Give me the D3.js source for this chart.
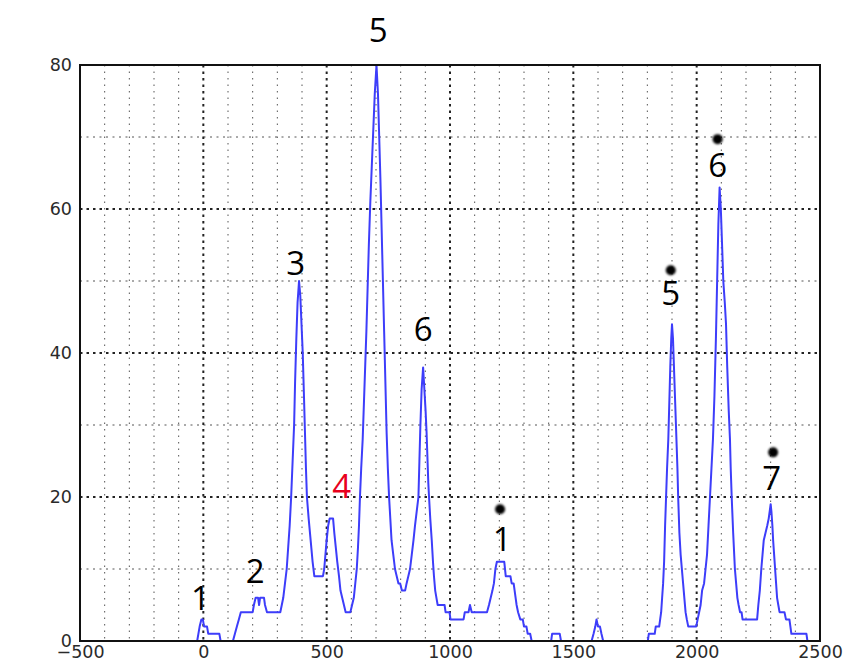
<!DOCTYPE html>
<html><head><meta charset="utf-8">
<script src="https://cdn.jsdelivr.net/npm/d3@7/dist/d3.min.js"></script>
<style>body{margin:0;background:#fff}svg{display:block}</style>
</head><body>
<svg id="c" width="849" height="664"></svg>
<script>
// ---- data ----
const xTicks = [-500, 0, 500, 1000, 1500, 2000, 2500];
const yTicks = [0, 20, 40, 60, 80];
const xMinor = [-400,-300,-200,-100,100,200,300,400,600,700,800,900,1100,1200,1300,1400,1600,1700,1800,1900,2100,2200,2300,2400];
const yMinor = [10, 30, 50, 70];

const sigX = [-25,-15,-8,-2,3,15,20,65,70,
 120,128,136,144,152,200,205,212,222,226,230,246,250,258,312,
 318,324,331,338,344,350,356,362,368,372,377,382,388,393,398,403,408,412,416,420,427,435,443,450,485,
 490,495,500,506,512,526,531,537,543,550,556,563,570,577,596,603,610,616,622,627,631,635,640,646,651,656,661,666,671,677,683,689,695,702,
 708,713,718,723,728,733,738,743,748,753,758,763,770,777,784,791,798,805,818,824,831,838,845,852,858,865,872,876,880,885,891,
 896,901,905,908,912,915,920,926,931,935,940,945,950,978,982,998,1002,1055,1060,1075,1081,1088,1150,1158,1165,1172,1178,1184,1190,1220,
 1226,1245,1250,1258,1262,1266,1270,1276,1285,1295,1300,1310,1315,1325,1331,
 1410,1414,1445,1450,
 1574,1582,1589,1594,1600,1608,1614,1621,
 1802,1806,1830,1834,1848,1852,1856,1860,1864,1868,1872,1876,1880,1885,1889,1893,1897,1900,1904,1908,1912,1916,1919,1922,1925,1930,1935,1940,1945,1950,1955,1960,1966,1998,
 2004,2010,2016,2022,2030,2036,2042,2048,2054,2060,2066,2072,2078,2083,2088,2093,2098,2102,2108,2114,2119,2124,2130,2135,2138,2142,2148,2155,2160,2165,2170,2176,2182,2186,2245,
 2250,2256,2262,2267,2272,2279,2286,2292,2296,2300,2303,2307,2310,2314,2318,2322,2326,2331,2336,2356,2362,2376,2380,2384,2445,2449];
const sigY = [0,2,3,3,2,2,1,1,0,
 0,1,2,3,4,4,5,6,6,5,6,6,5,4,4,
 5,6,8,10,13,16,20,25,30,36,42,47,50,48,44,40,34,29,24,20,17,14,11,9,9,
 10,12,14,16,17,17,15,13,11,9,7,6,5,4,4,5,6,8,10,13,16,20,24,28,33,38,43,49,55,61,66,71,76,80,
 76,70,64,57,50,43,36,29,24,20,17,14,12,10,9,8,8,7,7,8,9,10,12,14,16,18,20,25,30,35,38,
 35,32,29,26,22,20,17,14,11,9,7,6,5,5,4,4,3,3,4,4,5,4,4,5,6,7,8,10,11,11,
 9,9,8,8,7,6,5,4,3,3,2,2,1,1,0,
 0,1,1,0,
 0,1,2,3,2,2,1,0,
 0,1,1,2,2,3,4,6,8,11,16,20,24,28,33,38,42,44,42,38,34,30,27,24,20,15,12,10,8,6,4,3,2,2,
 3,4,5,7,8,10,12,16,20,24,28,34,42,50,58,63,60,56,50,47,44,38,32,28,24,20,15,10,8,6,5,4,4,3,3,
 5,7,10,12,14,15,16,17,18,19,18,16,14,12,10,8,6,5,4,4,3,3,2,1,1,0];

const annoText  = ["1","2","3","4","5","6","1","5","6","7"];
const annoX     = [-12,210,374,561,709,891,1212,1895,2085,2304];
const annoY     = [4.3,8.0,50.8,19.9,83.2,41.7,12.5,46.7,64.4,21.0];
const annoColor = ["#000","#000","#000","#e8001c","#000","#000","#000","#000","#000","#000"];
const dotX = [1203,1895,2085,2310];
const dotY = [18.3,51.5,69.7,26.2];

// ---- chart ----
const svg = d3.select("#c");
const L = 80, R = 820, T = 65, B = 641;
const x = d3.scaleLinear().domain([-500, 2500]).range([L, R]);
const y = d3.scaleLinear().domain([0, 80]).range([B, T]);

const defs = svg.append("defs");
defs.append("filter").attr("id","blur").attr("x","-50%").attr("y","-50%").attr("width","200%").attr("height","200%")
  .append("feGaussianBlur").attr("stdDeviation", 1.3);
defs.append("clipPath").attr("id","clip").append("rect").attr("x",L).attr("y",T-2).attr("width",R-L).attr("height",B-T+2);

const g = svg.append("g");
// minor grid
g.selectAll(".mx").data(xMinor).join("line")
  .attr("x1", d=>x(d)).attr("x2", d=>x(d)).attr("y1", T).attr("y2", B)
  .attr("stroke","#555").attr("stroke-width",1).attr("stroke-dasharray","1.5,5");
g.selectAll(".my").data(yMinor).join("line")
  .attr("x1", L).attr("x2", R).attr("y1", d=>y(d)).attr("y2", d=>y(d))
  .attr("stroke","#555").attr("stroke-width",1).attr("stroke-dasharray","2,4.5");
// major grid
g.selectAll(".Mx").data(xTicks.slice(1,-1)).join("line")
  .attr("x1", d=>x(d)).attr("x2", d=>x(d)).attr("y1", T).attr("y2", B)
  .attr("stroke","#222").attr("stroke-width",2).attr("stroke-dasharray","2.5,4");
g.selectAll(".My").data(yTicks.slice(1,-1)).join("line")
  .attr("x1", L).attr("x2", R).attr("y1", d=>y(d)).attr("y2", d=>y(d))
  .attr("stroke","#222").attr("stroke-width",2).attr("stroke-dasharray","2.5,4");

// signal line
const pts = sigX.map((v,i)=>[v, sigY[i]]);
svg.append("path").datum(pts)
  .attr("fill","none").attr("stroke","#3d3dfa").attr("stroke-width",2)
  .attr("stroke-linejoin","round")
  .attr("clip-path","url(#clip)")
  .attr("d", d3.line().x(d=>x(d[0])).y(d=>y(d[1])));

// frame
svg.append("rect").attr("x",L).attr("y",T).attr("width",R-L).attr("height",B-T)
  .attr("fill","none").attr("stroke","#111").attr("stroke-width",2);

// axes labels via d3 axes
const xAxis = d3.axisBottom(x).tickValues(xTicks).tickSize(0).tickPadding(5).tickFormat(d3.format("d"));
const xa = svg.append("g").attr("transform",`translate(0,${B})`).call(xAxis);
const yAxis = d3.axisLeft(y).tickValues(yTicks).tickSize(0).tickPadding(8).tickFormat(d3.format("d"));
const ya = svg.append("g").attr("transform",`translate(${L},0)`).call(yAxis);
[xa, ya].forEach(a=>{
  a.select(".domain").remove();
  a.selectAll("text").attr("font-family","DejaVu Sans, sans-serif").attr("font-size",17.5).attr("fill","#2a2a2a");
});

// annotations
svg.selectAll(".dot").data(dotX).join("circle")
  .attr("cx",(d,i)=>x(d)).attr("cy",(d,i)=>y(dotY[i])).attr("r",5)
  .attr("fill","#000").attr("filter","url(#blur)");
svg.selectAll(".anno").data(annoText).join("text")
  .attr("x",(d,i)=>x(annoX[i])).attr("y",(d,i)=>y(annoY[i]))
  .attr("text-anchor","middle").attr("font-family","Open Sans, sans-serif").attr("font-size",33)
  .attr("fill",(d,i)=>annoColor[i]).text(d=>d);
</script>
</body></html>
